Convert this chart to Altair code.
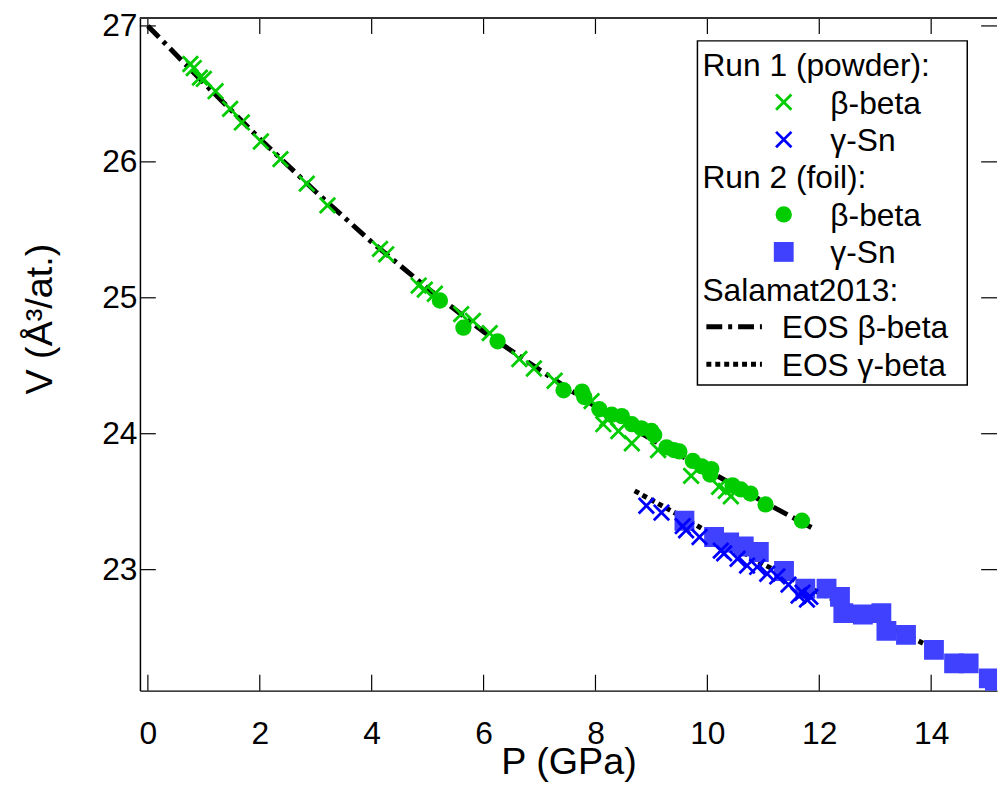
import altair as alt
import pandas as pd

# ---------------- data ----------------
# Run 1 (powder), beta phase (green crosses)
r1_beta_P = [0.76, 0.82, 0.93, 1.00, 1.21, 1.47, 1.68, 2.02, 2.37, 2.84, 3.21, 4.15, 4.26,
             4.84, 4.95, 5.13, 5.60, 5.81, 6.11, 6.64, 6.90, 7.27, 7.93, 8.14, 8.21, 8.41,
             8.65, 9.12, 9.71, 10.21, 10.33, 10.42]
r1_beta_V = [26.72, 26.69, 26.62, 26.61, 26.52, 26.39, 26.29, 26.15, 26.02, 25.84, 25.68, 25.36, 25.32,
             25.09, 25.06, 25.03, 24.88, 24.83, 24.74, 24.55, 24.48, 24.39, 24.24, 24.07, 24.11, 24.02,
             23.93, 23.88, 23.69, 23.61, 23.58, 23.54]

# Run 1 (powder), gamma-Sn (blue crosses)
r1_gamma_P = [8.91, 9.18, 9.56, 9.62, 9.86, 10.24, 10.30, 10.54, 10.71, 10.89, 11.07, 11.25,
              11.45, 11.63, 11.70, 11.78, 11.84]
r1_gamma_V = [23.47, 23.42, 23.32, 23.29, 23.24, 23.14, 23.12, 23.08, 23.03, 23.02, 22.97, 22.95,
              22.89, 22.81, 22.83, 22.78, 22.80]

# Run 2 (foil), beta phase (green circles)
r2_beta_P = [5.22, 5.64, 6.25, 7.43, 7.76, 7.80, 8.07, 8.29, 8.47, 8.65, 8.82, 9.00, 9.05,
             9.27, 9.40, 9.50, 9.74, 9.90, 10.07, 10.05, 10.45, 10.60, 10.77, 11.04, 11.69]
r2_beta_V = [24.98, 24.78, 24.68, 24.32, 24.31, 24.27, 24.18, 24.14, 24.13, 24.07, 24.04, 24.02, 23.99,
             23.90, 23.88, 23.87, 23.80, 23.76, 23.74, 23.70, 23.62, 23.59, 23.56, 23.48, 23.36]

# Run 2 (foil), gamma-Sn (blue squares)
r2_gamma_P = [9.59, 10.12, 10.39, 10.65, 10.92, 11.37, 11.75, 12.13, 12.37, 12.43, 12.78, 13.11,
              13.20, 13.55, 14.05, 14.41, 14.67, 15.03, 15.14]
r2_gamma_V = [23.36, 23.24, 23.20, 23.17, 23.13, 22.99, 22.86, 22.86, 22.80, 22.68, 22.67, 22.68,
              22.55, 22.52, 22.41, 22.31, 22.31, 22.20, 22.17]

# Salamat2013 EOS curves
eos_beta_P = [0.0, 1.0, 2.0, 3.0, 4.0, 5.0, 6.0, 7.0, 8.0, 9.0, 10.0, 11.0, 11.86]
eos_beta_V = [27.00, 26.58, 26.17, 25.78, 25.41, 25.07, 24.75, 24.47, 24.20, 23.96, 23.73, 23.50, 23.31]
eos_gamma_P = [8.70, 9.50, 10.00, 11.00, 12.00, 13.00, 13.90]
eos_gamma_V = [23.58, 23.40, 23.28, 23.04, 22.83, 22.63, 22.45]

x_ticks = [0, 2, 4, 6, 8, 10, 12, 14]
y_ticks = [23, 24, 25, 26, 27]

legend_rows = ["Run 1 (powder):", "β-beta", "γ-Sn", "Run 2 (foil):", "β-beta", "γ-Sn",
               "Salamat2013:", "EOS β-beta", "EOS γ-beta"]

# ---------------- styling ----------------
FONT = "Liberation Sans"
W, H = 864, 678
GREEN = "#00CC00"
BLUE = "#0000FF"
SQBLUE = "#4040FF"
XPATH = "M-1,-1L1,1M1,-1L-1,1"
LBL = 32
TTL = 38
LEG = 32

xs = alt.Scale(domain=[-0.142, 15.177], nice=False, zero=False)
ys = alt.Scale(domain=[22.11, 27.058], nice=False, zero=False)

x_axis = alt.Axis(values=x_ticks, ticks=False, grid=False, domain=True, domainColor="black",
                  domainWidth=1.5, labelFont=FONT, labelFontSize=LBL, labelColor="black",
                  labelPadding=28, title="P (GPa)", titleFont=FONT, titleFontSize=TTL,
                  titleFontWeight="normal", titleColor="black", titleY=84,
                  titleBaseline="alphabetic")
y_axis = alt.Axis(values=y_ticks, ticks=False, grid=False, domain=True, domainColor="black",
                  domainWidth=1.5, labelFont=FONT, labelFontSize=LBL, labelColor="black",
                  labelPadding=3, title="V (Å³/at.)", titleFont=FONT, titleFontSize=TTL,
                  titleFontWeight="normal", titleColor="black", titleX=-89, titleY=303,
                  titleAlign="center", titleBaseline="alphabetic", titleAngle=-90)


def df(P, V):
    return pd.DataFrame({"P": P, "V": V})


def X():
    return alt.X("P:Q", scale=xs, axis=x_axis)


def Y():
    return alt.Y("V:Q", scale=ys, axis=y_axis)


eos_b = alt.Chart(df(eos_beta_P, eos_beta_V)).mark_line(
    color="black", strokeWidth=5, strokeDash=[16, 6, 4, 6], strokeCap="butt", clip=True
).encode(x=X(), y=Y(), order="P:Q")

eos_g = alt.Chart(df(eos_gamma_P, eos_gamma_V)).mark_line(
    color="black", strokeWidth=5, strokeDash=[5, 4], strokeCap="butt", clip=True
).encode(x=X(), y=Y(), order="P:Q")

gx = alt.Chart(df(r1_beta_P, r1_beta_V)).mark_point(
    shape=XPATH, size=240, filled=False, color=GREEN, strokeWidth=2.8, opacity=1, clip=True
).encode(x=X(), y=Y())

gc = alt.Chart(df(r2_beta_P, r2_beta_V)).mark_point(
    shape="circle", size=270, filled=True, color=GREEN, opacity=1, clip=True
).encode(x=X(), y=Y())

bs = alt.Chart(df(r2_gamma_P, r2_gamma_V)).mark_point(
    shape="square", size=400, filled=True, color=SQBLUE, opacity=1, clip=True
).encode(x=X(), y=Y())

bx = alt.Chart(df(r1_gamma_P, r1_gamma_V)).mark_point(
    shape=XPATH, size=240, filled=False, color=BLUE, strokeWidth=2.8, opacity=1, clip=True
).encode(x=X(), y=Y())

# inward ticks
xt = pd.DataFrame({"P": x_ticks})
yt = pd.DataFrame({"V": y_ticks})
tick_b = alt.Chart(xt).mark_rule(color="black", strokeWidth=1.2).encode(
    x=X(), y=alt.value(H), y2=alt.value(H - 16))
tick_t = alt.Chart(xt).mark_rule(color="black", strokeWidth=1.2).encode(
    x=X(), y=alt.value(0), y2=alt.value(16))
tick_l = alt.Chart(yt).mark_rule(color="black", strokeWidth=1.2).encode(
    y=Y(), x=alt.value(0), x2=alt.value(16))
tick_r = alt.Chart(yt).mark_rule(color="black", strokeWidth=1.2).encode(
    y=Y(), x=alt.value(W - 16), x2=alt.value(W))
top_line = alt.Chart(xt).mark_rule(color="#333333", strokeWidth=1.2).encode(
    x=alt.value(0), x2=alt.value(W), y=alt.value(0))

one = pd.DataFrame({"a": [0]})

# legend
LX0, LX1, LY0, LY1 = 562, 834, 23, 370
leg_box = alt.Chart(one).mark_rect(fill="white", stroke="black", strokeWidth=1.5).encode(
    x=alt.value(LX0), x2=alt.value(LX1), y=alt.value(LY0), y2=alt.value(LY1))

row_c = [47 + i * 37.75 for i in range(len(legend_rows))]
text_x = [567, 696, 696, 567, 696, 696, 567, 647, 647]
leg_layers = [leg_box]
for t, tx, cy in zip(legend_rows, text_x, row_c):
    leg_layers.append(
        alt.Chart(one).mark_text(text=t, font=FONT, fontSize=LEG, align="left",
                                 baseline="alphabetic", color="black").encode(
            x=alt.value(tx), y=alt.value(cy + 11.5)))

SYMX = 649
leg_layers.append(alt.Chart(one).mark_point(shape=XPATH, size=240, filled=False, color=GREEN,
                                            strokeWidth=2.8, opacity=1).encode(
    x=alt.value(SYMX), y=alt.value(row_c[1])))
leg_layers.append(alt.Chart(one).mark_point(shape=XPATH, size=240, filled=False, color=BLUE,
                                            strokeWidth=2.8, opacity=1).encode(
    x=alt.value(SYMX), y=alt.value(row_c[2])))
leg_layers.append(alt.Chart(one).mark_point(shape="circle", size=270, filled=True, color=GREEN,
                                            opacity=1).encode(
    x=alt.value(SYMX), y=alt.value(row_c[4])))
leg_layers.append(alt.Chart(one).mark_point(shape="square", size=400, filled=True, color=SQBLUE,
                                            opacity=1).encode(
    x=alt.value(SYMX), y=alt.value(row_c[5])))
leg_layers.append(alt.Chart(one).mark_rule(color="black", strokeWidth=5, strokeDash=[16, 6, 4, 6],
                                           strokeCap="butt").encode(
    x=alt.value(571), x2=alt.value(627), y=alt.value(row_c[7])))
leg_layers.append(alt.Chart(one).mark_rule(color="black", strokeWidth=5, strokeDash=[5, 4],
                                           strokeCap="butt").encode(
    x=alt.value(571), x2=alt.value(627), y=alt.value(row_c[8])))

chart = alt.layer(
    eos_b, eos_g, gx, gc, bs, bx, tick_b, tick_t, tick_l, tick_r, top_line, *leg_layers
).properties(
    width=W, height=H,
    autosize=alt.AutoSizeParams(type="none"),
    padding={"left": 133, "top": 7, "right": 2, "bottom": 92},
    background="white",
).configure_view(stroke=None)

chart.save("out.html", embed_options={"renderer": "svg", "actions": False})
